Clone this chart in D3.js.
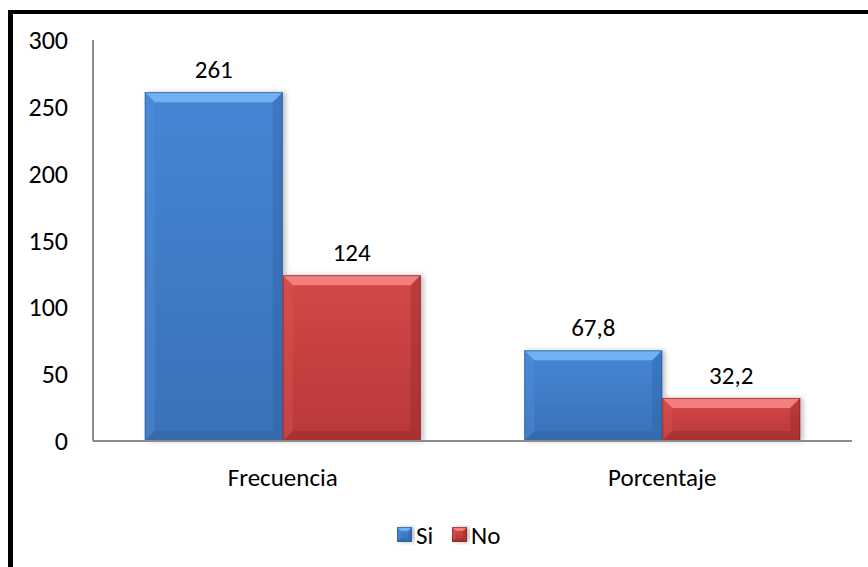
<!DOCTYPE html>
<html><head><meta charset="utf-8">
<script src="https://cdn.jsdelivr.net/npm/d3@7"></script>
<style>body{margin:0;background:#fff}svg{display:block}text{font-family:Carlito,Calibri,Lato,sans-serif;fill:#000}</style>
</head><body><svg id="c" width="868" height="567"></svg>
<script>
const categories = ["Frecuencia", "Porcentaje"];
const seriesNames = ["Si", "No"];
const siValues = [261, 67.8];
const noValues = [124, 32.2];
const yTicks = [0, 50, 100, 150, 200, 250, 300];
const fmt = v => String(v).replace(".", ",");

const svg = d3.select("#c");
const W = 868, H = 567;
const m = {l: 93, r: 16, t: 40, b: 126};
const x0 = d3.scaleBand().domain(categories).range([m.l, W - m.r]).paddingInner(0.273).paddingOuter(0.1365);
const x1 = d3.scaleBand().domain(seriesNames).range([0, x0.bandwidth()]);
const y = d3.scaleLinear().domain([0, 300]).range([H - m.b, m.t]);

const pal = {
  Si: {top: "#72b0f4", left: "#5190dc", right: "#2c5e9c", bot: "#2f619f", g1: "#4586d5", g2: "#3a71b8", edge:"#2a558c"},
  No: {top: "#f47e7e", left: "#dc5656", right: "#8e2424", bot: "#962a2a", g1: "#d44848", g2: "#b83838", edge:"#7e1e1e"}
};
const defs = svg.append("defs");
for (const k of seriesNames) {
  const g = defs.append("linearGradient").attr("id", "g" + k).attr("x1", 0).attr("y1", 0).attr("x2", 0).attr("y2", 1);
  g.append("stop").attr("offset", 0).attr("stop-color", pal[k].g1);
  g.append("stop").attr("offset", 1).attr("stop-color", pal[k].g2);
}
const f = defs.append("filter").attr("id", "sh").attr("x", -0.1).attr("y", -0.1).attr("width", 1.3).attr("height", 1.3);
f.append("feGaussianBlur").attr("in", "SourceAlpha").attr("stdDeviation", 2.5);
f.append("feOffset").attr("dx", 3).attr("dy", 0).attr("result", "b");
f.append("feComponentTransfer").append("feFuncA").attr("type", "linear").attr("slope", 0.25);
const fm = f.append("feMerge"); fm.append("feMergeNode"); fm.append("feMergeNode").attr("in", "SourceGraphic");

function bevelBox(g, X, Y, w, h, k, b) {
  const p = pal[k];
  const grp = g.append("g");
  grp.append("rect").attr("x", X).attr("y", Y).attr("width", w).attr("height", h).attr("fill", "url(#g" + k + ")").attr("filter", "url(#sh)");
  const bb = Math.min(b, h / 2, w / 2);
  grp.append("polygon").attr("points", [[X, Y], [X + w, Y], [X + w - bb, Y + bb], [X + bb, Y + bb]].join(" ")).attr("fill", p.top);
  grp.append("polygon").attr("points", [[X, Y], [X + bb, Y + bb], [X + bb, Y + h - bb], [X, Y + h]].join(" ")).attr("fill", p.left).attr("opacity", 0.4);
  grp.append("polygon").attr("points", [[X + w, Y], [X + w, Y + h], [X + w - bb, Y + h - bb], [X + w - bb, Y + bb]].join(" ")).attr("fill", p.right).attr("opacity", 0.35);
  grp.append("polygon").attr("points", [[X, Y + h], [X + bb, Y + h - bb], [X + w - bb, Y + h - bb], [X + w, Y + h]].join(" ")).attr("fill", p.bot).attr("opacity", 0.45);
  grp.append("rect").attr("x", X + 0.5).attr("y", Y + 0.5).attr("width", w - 1).attr("height", h - 1).attr("fill", "none").attr("stroke", p.edge).attr("stroke-width", 1).attr("opacity", 0.6);
}

// y axis labels
svg.append("g").selectAll("text").data(yTicks).join("text")
  .attr("x", 68).attr("y", d => y(d)).attr("dy", "0.35em").attr("text-anchor", "end")
  .style("font-size", "26px").text(d => d);

// bars
const rows = categories.map((c, i) => ({c, vals: [{k: "Si", v: siValues[i]}, {k: "No", v: noValues[i]}]}));
const barsG = svg.append("g");
rows.forEach(r => {
  r.vals.forEach(d => {
    const X = x0(r.c) + x1(d.k), w = x1.bandwidth();
    bevelBox(barsG, X, y(d.v), w, y(0) - y(d.v), d.k, 10);
    svg.append("text").attr("x", X + w / 2).attr("y", y(d.v) - 14).attr("text-anchor", "middle")
      .style("font-size", "25px").text(fmt(d.v));
  });
});

// axes lines
svg.append("line").attr("x1", m.l).attr("x2", m.l).attr("y1", m.t).attr("y2", y(0)).attr("stroke", "#8c8c8c").attr("stroke-width", 2);
svg.append("line").attr("x1", m.l).attr("x2", W - m.r).attr("y1", y(0)).attr("y2", y(0)).attr("stroke", "#8c8c8c").attr("stroke-width", 2);

// category labels
svg.append("g").selectAll("text").data(categories).join("text")
  .attr("x", d => x0(d) + x0.bandwidth() / 2).attr("y", 477).attr("dy", "0.35em").attr("text-anchor", "middle")
  .style("font-size", "25px").text(d => d);

// legend
const leg = svg.append("g");
const legX = [397, 452];
seriesNames.forEach((k, i) => {
  bevelBox(leg, legX[i], 527, 15, 15, k, 4);
  leg.append("text").attr("x", legX[i] + 19).attr("y", 535).attr("dy", "0.35em").style("font-size", "25px").text(k);
});

// border (top and left)
svg.append("line").attr("x1", 8).attr("x2", W).attr("y1", 12).attr("y2", 12).attr("stroke", "#000").attr("stroke-width", 4);
svg.append("line").attr("x1", 10.5).attr("x2", 10.5).attr("y1", 10).attr("y2", H).attr("stroke", "#000").attr("stroke-width", 5);
</script></body></html>
